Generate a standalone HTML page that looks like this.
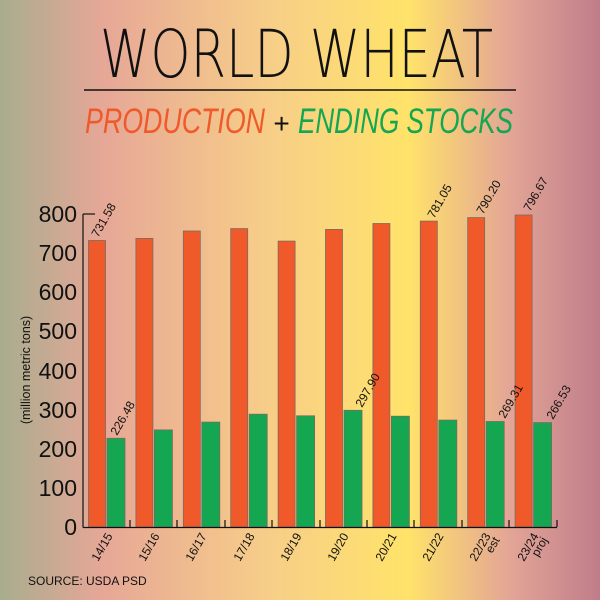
<!DOCTYPE html>
<html><head><meta charset="utf-8"><style>
html,body{margin:0;padding:0;width:600px;height:600px;overflow:hidden}
svg{display:block;font-family:"Liberation Sans",sans-serif}
</style></head><body>
<svg width="600" height="600" viewBox="0 0 600 600" xmlns="http://www.w3.org/2000/svg">
<defs>
<linearGradient id="bg" x1="0" x2="1" y1="0" y2="0">
<stop offset="0" stop-color="#a8ad8e"/>
<stop offset="0.17" stop-color="#e6a797"/>
<stop offset="0.45" stop-color="#f7ce88"/>
<stop offset="0.68" stop-color="#ffe36a"/>
<stop offset="0.85" stop-color="#e3a596"/>
<stop offset="1" stop-color="#bf7d8a"/>
</linearGradient>
</defs>
<rect width="600" height="600" fill="url(#bg)"/>
<text x="100" y="77" font-size="66" textLength="393" lengthAdjust="spacingAndGlyphs" fill="#111" style="font-family:'DejaVu Sans ExtraLight','DejaVu Sans','Liberation Sans',sans-serif;font-weight:200">WORLD WHEAT</text>
<line x1="84" y1="90" x2="516" y2="90" stroke="#111" stroke-width="1.5"/>
<text x="85" y="133" font-size="35" font-style="italic" fill="#f05a2a" textLength="180" lengthAdjust="spacingAndGlyphs">PRODUCTION</text>
<text x="273" y="133" font-size="28" font-style="italic" fill="#111">+</text>
<text x="298" y="133" font-size="35" font-style="italic" fill="#14a650" textLength="215" lengthAdjust="spacingAndGlyphs">ENDING STOCKS</text>

<g font-size="23" fill="#111" text-anchor="end">
<text x="77" y="222">800</text><text x="77" y="261">700</text><text x="77" y="300">600</text><text x="77" y="339">500</text><text x="77" y="379">400</text><text x="77" y="418">300</text><text x="77" y="457">200</text><text x="77" y="496">100</text><text x="77" y="535">0</text>
</g>
<text transform="translate(30,370) rotate(-90)" font-size="12.5" fill="#111" text-anchor="middle">(million metric tons)</text>

<g stroke="#7a6a60" stroke-width="0.8">
<rect x="88.5" y="240.5" width="17" height="286.5" fill="#f05a2a"/>
<rect x="107" y="438.3" width="18" height="88.7" fill="#14a650"/>
<rect x="135.9" y="238.4" width="17" height="288.6" fill="#f05a2a"/>
<rect x="154.4" y="429.9" width="18" height="97.1" fill="#14a650"/>
<rect x="183.3" y="231" width="17" height="296" fill="#f05a2a"/>
<rect x="201.8" y="422.1" width="18" height="104.9" fill="#14a650"/>
<rect x="230.7" y="228.6" width="17" height="298.4" fill="#f05a2a"/>
<rect x="249.2" y="414.2" width="18" height="112.8" fill="#14a650"/>
<rect x="278.1" y="241.1" width="17" height="285.9" fill="#f05a2a"/>
<rect x="296.6" y="415.8" width="18" height="111.2" fill="#14a650"/>
<rect x="325.5" y="229.4" width="17" height="297.6" fill="#f05a2a"/>
<rect x="344" y="410.3" width="18" height="116.7" fill="#14a650"/>
<rect x="372.9" y="223.5" width="17" height="303.5" fill="#f05a2a"/>
<rect x="391.4" y="416.2" width="18" height="110.8" fill="#14a650"/>
<rect x="420.3" y="221.1" width="17" height="305.9" fill="#f05a2a"/>
<rect x="438.8" y="420.1" width="18" height="106.9" fill="#14a650"/>
<rect x="467.7" y="217.6" width="17" height="309.4" fill="#f05a2a"/>
<rect x="486.2" y="421.5" width="18" height="105.5" fill="#14a650"/>
<rect x="515.1" y="215" width="17" height="312" fill="#f05a2a"/>
<rect x="533.6" y="422.6" width="18" height="104.4" fill="#14a650"/>
</g>

<g stroke="#111" stroke-width="1.2">
<line x1="83" y1="214" x2="83" y2="527.5"/>
<line x1="83" y1="214" x2="95" y2="214"/>
<line x1="83" y1="527.5" x2="557" y2="527.5"/>
<line x1="130" y1="520" x2="130" y2="527"/><line x1="177" y1="520" x2="177" y2="527"/><line x1="225" y1="520" x2="225" y2="527"/><line x1="272" y1="520" x2="272" y2="527"/><line x1="320" y1="520" x2="320" y2="527"/><line x1="367" y1="520" x2="367" y2="527"/><line x1="414" y1="520" x2="414" y2="527"/><line x1="462" y1="520" x2="462" y2="527"/><line x1="509" y1="520" x2="509" y2="527"/><line x1="557" y1="520" x2="557" y2="527"/>
</g>

<g font-size="12" fill="#111">
<text transform="translate(98,238) rotate(-60)">731.58</text>
<text transform="translate(117,436) rotate(-60)">226.48</text>
<text transform="translate(362,408) rotate(-60)">297.90</text>
<text transform="translate(434,219) rotate(-60)">781.05</text>
<text transform="translate(483,215) rotate(-60)">790.20</text>
<text transform="translate(530,212) rotate(-60)">796.67</text>
<text transform="translate(505,419) rotate(-60)">269.31</text>
<text transform="translate(553,420) rotate(-60)">266.53</text>
</g>

<g font-size="12" fill="#111" text-anchor="end">
<text transform="translate(113,536) rotate(-60)">14/15</text>
<text transform="translate(160,536) rotate(-60)">15/16</text>
<text transform="translate(207,536) rotate(-60)">16/17</text>
<text transform="translate(255,536) rotate(-60)">17/18</text>
<text transform="translate(302,536) rotate(-60)">18/19</text>
<text transform="translate(349,536) rotate(-60)">19/20</text>
<text transform="translate(397,536) rotate(-60)">20/21</text>
<text transform="translate(444,536) rotate(-60)">21/22</text>
<text transform="translate(491,536) rotate(-60)">22/23</text>
<text transform="translate(500,540) rotate(-60)">est</text>
<text transform="translate(539,536) rotate(-60)">23/24</text>
<text transform="translate(548,540) rotate(-60)">proj</text>
</g>
<text x="28" y="585" font-size="12" fill="#111">SOURCE: USDA PSD</text>
</svg>
</body></html>
